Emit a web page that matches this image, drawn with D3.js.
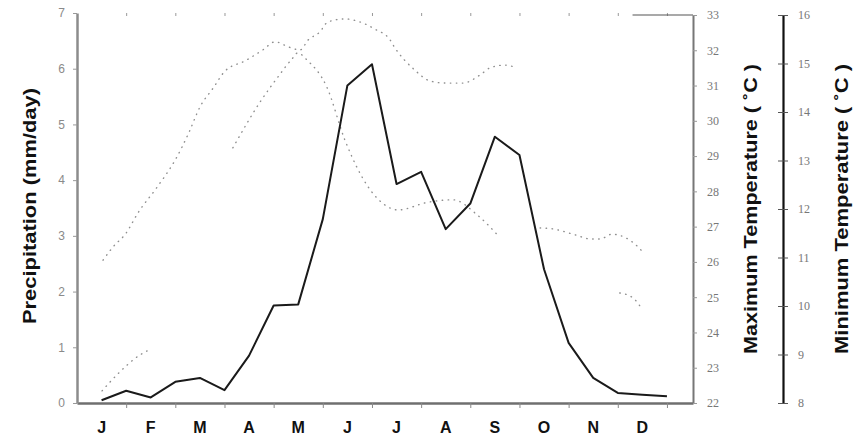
<!DOCTYPE html>
<html>
<head>
<meta charset="utf-8">
<script src="https://cdn.jsdelivr.net/npm/d3@7"></script>
<style>
  body { margin: 0; background: #fff; }
  svg { display: block; font-family: Arial, "Liberation Sans", sans-serif; }
</style>
</head>
<body>
<svg id="chart" width="868" height="443"></svg>
<script>
// === data ===
const months = ["J", "F", "M", "A", "M", "J", "J", "A", "S", "O", "N", "D"];

// precipitation, twice a month (mid and end of month)
const precipMonth = [0.5, 1, 1.5, 2, 2.5, 3, 3.5, 4, 4.5, 5, 5.5, 6,
                     6.5, 7, 7.5, 8, 8.5, 9, 9.5, 10, 10.5, 11, 11.5, 12];
const precip = [0.05, 0.22, 0.1, 0.38, 0.45, 0.23, 0.85, 1.75, 1.77, 3.3, 5.7, 6.08,
                3.93, 4.15, 3.12, 3.58, 4.78, 4.45, 2.4, 1.08, 0.45, 0.18, 0.15, 0.12];

// maximum temperature (dotted, broken in places -> null)
const tmaxMonth = [0.53, 0.73, 1.0, 1.24, 1.63, 2.01, 2.28, 2.5, 2.77, 3.01, 3.42, 3.78,
                   4.03, 4.31, 4.54, 4.7, 4.94, 5.1, 5.45, 5.76, 6.06, 6.37, 6.43,
                   6.87, 7.18, 7.5, 7.85, 8.2, 8.4, 8.7, 8.95, null,
                   11.04, 11.31, 11.45];
const tmax = [26.05, 26.42, 26.82, 27.39, 28.12, 28.92, 29.68, 30.39, 30.93, 31.41, 31.7, 32.01,
              32.24, 32.09, 32.01, 32.29, 32.52, 32.8, 32.89, 32.8, 32.6, 32.29, 32.15,
              31.44, 31.13, 31.07, 31.07, 31.3, 31.5, 31.58, 31.5, null,
              25.12, 24.98, 24.75];

// minimum temperature
const tminMonth = [0.51, 0.87, 1.28, 1.46, null,
                   3.17, 3.74, 4.07, 4.37, 4.49, 4.68, 5.08, 5.45, 5.9, 6.24, 6.53,
                   7.14, 7.65, 8.14, 8.54, null,
                   9.42, 9.68, 10.09, 10.47, 10.64, 10.88, 11.41, 11.51];
const tmin = [8.25, 8.64, 8.99, 9.09, null,
              13.26, 14.23, 14.7, 15.09, 15.22, 15.07, 14.52, 13.42, 12.49, 12.1, 11.98,
              12.14, 12.19, 11.88, 11.48, null,
              11.61, 11.59, 11.48, 11.38, 11.38, 11.48, 11.22, 11.11];

const precipTicks = [0, 1, 2, 3, 4, 5, 6, 7];
const tmaxTicks = [22, 23, 24, 25, 26, 27, 28, 29, 30, 31, 32, 33];
const tminTicks = [8, 9, 10, 11, 12, 13, 14, 15, 16];

// === layout ===
const svg = d3.select("#chart");
const plotLeft = 77, plotRight = 693, plotTop = 14, plotBottom = 403;
const minAxisX = 783;

const x = d3.scaleLinear().domain([0, 12.53]).range([plotLeft, plotRight]);
const yP = d3.scaleLinear().domain([0, 7]).range([plotBottom, plotTop - 1]);
const yMax = d3.scaleLinear().domain([22, 33]).range([plotBottom, plotTop + 1]);
const yMin = d3.scaleLinear().domain([8, 16]).range([plotBottom, plotTop + 1]);

// === dotted temperature curves ===
function dotted(ms, vs, y) {
  const pts = ms.map((m, i) => [m, vs[i]]);
  const line = d3.line()
    .defined(d => d[0] !== null && d[1] !== null)
    .x(d => x(d[0]))
    .y(d => y(d[1]))
    .curve(d3.curveMonotoneX);
  svg.append("path")
    .attr("d", line(pts))
    .attr("fill", "none")
    .attr("stroke", "#8f8f8f")
    .attr("stroke-width", 1.4)
    .attr("stroke-linecap", "round")
    .attr("stroke-dasharray", "0.5,5.5");
}
dotted(tmaxMonth, tmax, yMax);
dotted(tminMonth, tmin, yMin);

// === precipitation line ===
const pLine = d3.line()
  .x((d, i) => x(precipMonth[i]))
  .y(d => yP(d));
svg.append("path")
  .attr("d", pLine(precip))
  .attr("fill", "none")
  .attr("stroke", "#1a1a1a")
  .attr("stroke-width", 2)
  .attr("stroke-linejoin", "round");

// === axes ===
// bottom axis with month boundary ticks
const xAxis = svg.append("g")
  .attr("transform", `translate(0,${plotBottom})`)
  .call(d3.axisBottom(x).tickValues(d3.range(1, 13)).tickSize(5).tickFormat("").tickSizeOuter(0));
xAxis.select(".domain").attr("stroke", "#6f6f6f").attr("stroke-width", 2.5);
xAxis.selectAll(".tick line").attr("stroke", "#888");

// top tick marks (no line)
const topAxis = svg.append("g")
  .attr("transform", `translate(0,${plotTop})`)
  .call(d3.axisTop(x).tickValues(d3.range(1, 13)).tickSize(3).tickFormat(""));
topAxis.select(".domain").remove();
topAxis.selectAll(".tick line").attr("stroke", "#999").attr("transform", "translate(0,2)");

svg.append("g")
  .selectAll("text")
  .data(months)
  .join("text")
  .attr("x", (d, i) => x(i + 0.5))
  .attr("y", 433)
  .attr("text-anchor", "middle")
  .attr("font-size", 16)
  .attr("font-weight", "bold")
  .attr("fill", "#111")
  .text(d => d);

// left precipitation axis
const pAxis = svg.append("g")
  .attr("transform", `translate(${plotLeft},0)`)
  .call(d3.axisLeft(yP).tickValues(precipTicks).tickFormat(d3.format("d"))
    .tickSize(4).tickPadding(8).tickSizeOuter(0));
pAxis.select(".domain").attr("stroke", "#8c8c8c").attr("stroke-width", 2.5);
pAxis.selectAll(".tick line").attr("stroke", "#999");
pAxis.selectAll(".tick text")
  .attr("font-size", 12)
  .attr("fill", "#8a8a8a")
  .attr("font-family", "Arial, 'Liberation Sans', sans-serif");

// right max temperature axis
const maxAxis = svg.append("g")
  .attr("transform", `translate(${plotRight},0)`)
  .call(d3.axisRight(yMax).tickValues(tmaxTicks).tickSize(4).tickPadding(10).tickSizeOuter(0));
maxAxis.select(".domain").attr("stroke", "#777").attr("stroke-width", 2);
maxAxis.selectAll(".tick line").attr("stroke", "#999");
maxAxis.selectAll(".tick text")
  .attr("font-size", 12)
  .attr("fill", "#777")
  .attr("font-family", "'Liberation Serif', 'DejaVu Serif', serif");

// short frame line at the top right corner
svg.append("line")
  .attr("x1", x(11.3)).attr("x2", plotRight)
  .attr("y1", yMax(33)).attr("y2", yMax(33))
  .attr("stroke", "#555").attr("stroke-width", 1.2);

// min temperature axis, ticks across the line
const minAxis = svg.append("g")
  .attr("transform", `translate(${minAxisX},0)`)
  .call(d3.axisRight(yMin).tickValues(tminTicks).tickSize(5).tickPadding(10).tickSizeOuter(0));
minAxis.select(".domain").attr("stroke", "#111").attr("stroke-width", 2.2);
minAxis.selectAll(".tick line").attr("x1", -5).attr("stroke", "#555");
minAxis.selectAll(".tick text")
  .attr("font-size", 12)
  .attr("fill", "#777")
  .attr("font-family", "'Liberation Serif', 'DejaVu Serif', serif");

// axis titles (scanned original is stretched, so fit to length)
function title(txt, cx, cy, len) {
  svg.append("text")
    .attr("transform", `translate(${cx},${cy}) rotate(-90)`)
    .attr("text-anchor", "middle")
    .attr("font-size", 18)
    .attr("font-weight", "bold")
    .attr("fill", "#111")
    .attr("textLength", len)
    .attr("lengthAdjust", "spacingAndGlyphs")
    .text(txt);
}
title("Precipitation (mm/day)", 36, 206, 236);
title("Maximum Temperature ( \u02daC )", 757, 209, 290);
title("Minimum Temperature ( \u02daC )", 848, 209, 290);
</script>
</body>
</html>
